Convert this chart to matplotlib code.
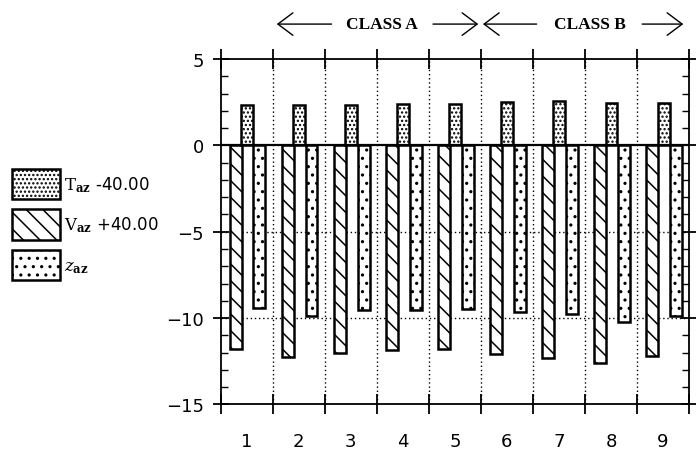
import matplotlib
matplotlib.use("Agg")
import matplotlib.pyplot as plt
import numpy as np
from matplotlib.ticker import MultipleLocator

# ---- data ----
categories = ["1", "2", "3", "4", "5", "6", "7", "8", "9"]
t_values = [2.33, 2.33, 2.33, 2.37, 2.37, 2.50, 2.58, 2.45, 2.45]
v_values = [-11.80, -12.23, -12.02, -11.83, -11.80, -12.10, -12.33, -12.62, -12.17]
z_values = [-9.42, -9.86, -9.54, -9.52, -9.48, -9.67, -9.77, -10.25, -9.90]
series_labels = [r"$\mathrm{T}_{\mathbf{az}}$ -40.00",
                 r"$\mathrm{V}_{\mathbf{az}}$ +40.00",
                 r"$\mathit{z}_{\mathbf{az}}$"]
class_labels = ["CLASS A", "CLASS B"]
y_ticks = [5, 0, -5, -10, -15]

plt.rcParams["mathtext.fontset"] = "dejavuserif"
plt.rcParams["hatch.linewidth"] = 1.1

fig = plt.figure(figsize=(6.96, 4.52), dpi=100)
ax = fig.add_axes([0.3171, 0.1029, 0.6729, 0.7644])

x = np.arange(1, len(categories) + 1)
w = 0.23
common = dict(facecolor="white", edgecolor="black", linewidth=1.8, zorder=3)
bV = ax.bar(x - 0.215, v_values, w, hatch="\\\\", **common)
bT = ax.bar(x + 0.01, t_values, w, hatch="....", **common)
bZ = ax.bar(x + 0.245, z_values, w, hatch="..", **common)

ax.set_xlim(0.5, 9.5)
ax.set_ylim(-15, 5)

# grid lines
for b in np.arange(1.5, 9.5, 1):
    ax.axvline(b, color="black", linestyle=(0, (1, 2)), linewidth=1.0, zorder=1)
for yv in (-5, -10):
    ax.axhline(yv, color="black", linestyle=(0, (1, 2)), linewidth=1.0, zorder=1)
ax.axhline(0, color="black", linewidth=1.6, zorder=4)

for s in ax.spines.values():
    s.set_linewidth(1.3)

ax.set_xticks(x, categories)
ax.set_xticks(np.arange(0.5, 10, 1), minor=True)
ax.tick_params(axis="x", which="major", length=0, pad=20, labelsize=13)
ax.tick_params(axis="x", which="minor", direction="inout", length=14, width=1.3,
               top=True, bottom=True)
ax.set_yticks(y_ticks)
ax.yaxis.set_minor_locator(MultipleLocator(1))
ax.tick_params(axis="y", which="major", direction="inout", length=12, width=1.3,
               left=True, right=True, labelsize=13, pad=6)
ax.tick_params(axis="y", which="minor", direction="in", length=5, width=1.0,
               left=True, right=True)

# class annotations above the plot
trans = ax.get_xaxis_transform()
yf = 1.101
arrow_kw = dict(arrowstyle="->,head_length=0.6,head_width=0.45", lw=1.0,
                shrinkA=0, shrinkB=0, mutation_scale=18, color="black")
spans = [(1.577, 2.63, 3.596, 4.58, 5.45), (5.54, 6.57, 7.6, 8.6, 9.39)]
for lab, (h1, t1, c, t2, h2) in zip(class_labels, spans):
    ax.annotate("", xy=(h1, yf), xytext=(t1, yf), xycoords=trans,
                arrowprops=arrow_kw, annotation_clip=False)
    ax.annotate("", xy=(h2, yf), xytext=(t2, yf), xycoords=trans,
                arrowprops=arrow_kw, annotation_clip=False)
    ax.text(c, yf, lab, transform=trans, ha="center", va="center",
            fontfamily="Liberation Serif", fontweight="bold", fontsize=12.5)

fig.legend([bT, bV, bZ], series_labels, loc="upper left",
           bbox_to_anchor=(12 / 696, 1 - 170 / 452), frameon=False, fontsize=12,
           handlelength=2.88, handleheight=2.4, labelspacing=0.62,
           handletextpad=0.25, borderpad=0, borderaxespad=0)

fig.savefig("out.png", dpi=100)
